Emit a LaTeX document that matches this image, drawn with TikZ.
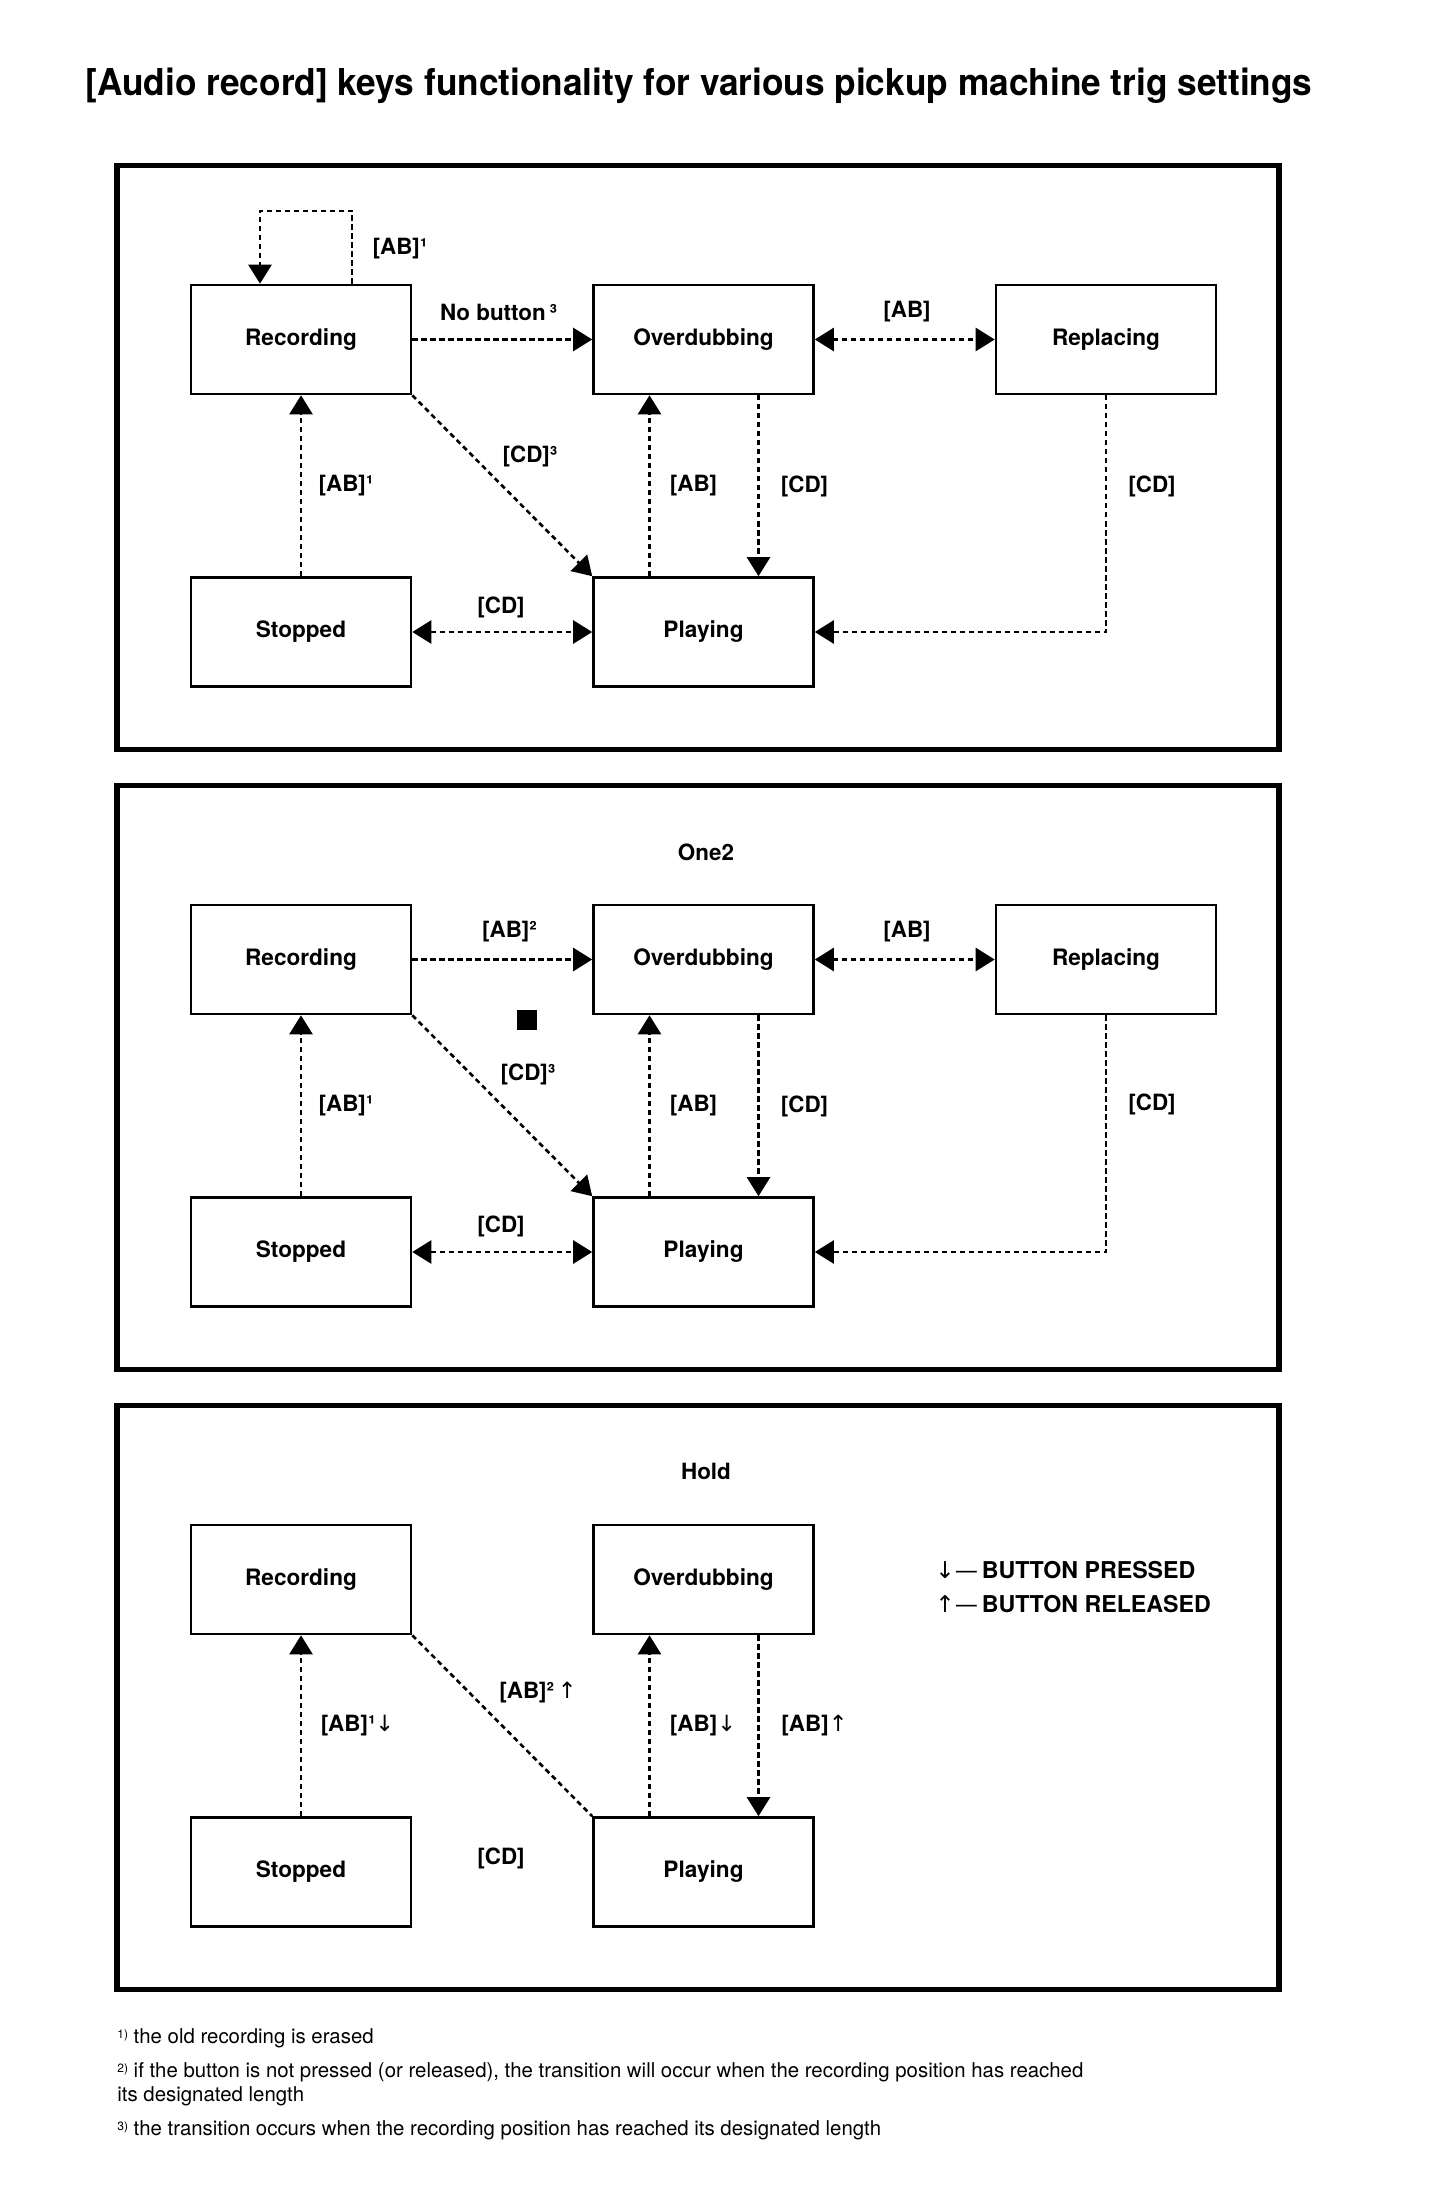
\documentclass[tikz,border=0pt]{standalone}
\usepackage{fontspec}
\setmainfont{TeX Gyre Heros}
\newfontfamily\arr{DejaVu Sans}
\usetikzlibrary{arrows.meta,calc}
\tikzset{
  box/.style={draw, line width=1.3pt, minimum width=110pt, minimum height=54.5pt, inner sep=0pt,
    font=\bfseries\fontsize{11.3}{13}\selectfont},
  lbl/.style={inner sep=0pt, font=\bfseries\fontsize{11.2}{13}\selectfont},
  lgd/.style={inner sep=0pt, anchor=west, font=\bfseries\fontsize{11.6}{13}\selectfont},
  ttl/.style={inner sep=0pt, font=\bfseries\fontsize{11.2}{13}\selectfont},
  fnote/.style={inner sep=0pt, anchor=base west, font=\fontsize{10.2}{12}\selectfont},
  frame/.style={line width=2.6pt},
  dl/.style={line width=1.3pt, dash pattern=on 2.6pt off 1.9pt},
  tip/.tip={Triangle[length=9.5pt,width=11.5pt]}
}
\newcommand{\fnm}[1]{\raisebox{0.45ex}{\fontsize{6}{7}\selectfont #1}}
\begin{document}
\begin{tikzpicture}[x=0.5pt,y=-0.5pt]
\useasboundingbox (0,0) rectangle (1432,2209);
\fill[white] (0,0) rectangle (1432,2209);

% Title
\node[inner sep=0pt, anchor=base west] (title) at (85,96)
  {\resizebox{613.5pt}{\height}{\bfseries\fontsize{18.5}{22}\selectfont [Audio record] keys functionality for various pickup machine trig settings}};

% ---------------- Frame 1 ----------------
\draw[frame] (117,165.5) rectangle (1279,749.5);
\node[box] (rec1)  at (301,339.5)  {Recording};
\node[box] (over1) at (703.5,339.5) {Overdubbing};
\node[box] (repl1) at (1106,339.5) {Replacing};
\node[box] (stop1) at (301,632)    {Stopped};
\node[box] (play1) at (703.5,632)  {Playing};
\coordinate (loop1) at (260,211);
\draw[dl,-tip] ([xshift=25.5pt]rec1.north) |- (loop1) -- ([xshift=-20.5pt]rec1.north);
\draw[dl,-tip] (rec1) -- (over1);
\draw[dl,tip-tip] (over1) -- (repl1);
\draw[dl,-tip] (rec1.south east) -- (play1.north west);
\draw[dl,-tip] (stop1) -- (rec1);
\draw[dl,-tip] ([xshift=-27pt]play1.north) -- ([xshift=-27pt]over1.south);
\draw[dl,-tip] ([xshift=27.5pt]over1.south) -- ([xshift=27.5pt]play1.north);
\draw[dl,-tip] (repl1.south) |- (play1.east);
\draw[dl,tip-tip] (stop1) -- (play1);
\node[lbl] (l1a) at (400,249) {[AB]¹};
\node[lbl] (l1b) at (498.5,312) {No button\,³};
\node[lbl] (l1c) at (907,312) {[AB]};
\node[lbl] (l1d) at (530,456) {[CD]³};
\node[lbl] (l1e) at (346,486) {[AB]¹};
\node[lbl] (l1f) at (693.5,486) {[AB]};
\node[lbl] (l1g) at (804.5,486) {[CD]};
\node[lbl] (l1h) at (1152,486) {[CD]};
\node[lbl] (l1i) at (501,607) {[CD]};

% ---------------- Frame 2 ----------------
\draw[frame] (117,785.5) rectangle (1279,1369.5);
\node[ttl] (t2) at (706,852) {One2};
\node[box] (rec2)  at (301,959.5)  {Recording};
\node[box] (over2) at (703.5,959.5) {Overdubbing};
\node[box] (repl2) at (1106,959.5) {Replacing};
\node[box] (stop2) at (301,1252)    {Stopped};
\node[box] (play2) at (703.5,1252)  {Playing};
\draw[dl,-tip] (rec2) -- (over2);
\draw[dl,tip-tip] (over2) -- (repl2);
\draw[dl,-tip] (rec2.south east) -- (play2.north west);
\draw[dl,-tip] (stop2) -- (rec2);
\draw[dl,-tip] ([xshift=-27pt]play2.north) -- ([xshift=-27pt]over2.south);
\draw[dl,-tip] ([xshift=27.5pt]over2.south) -- ([xshift=27.5pt]play2.north);
\draw[dl,-tip] (repl2.south) |- (play2.east);
\draw[dl,tip-tip] (stop2) -- (play2);
\node[fill=black, minimum size=10pt, inner sep=0pt] (sq2) at (527,1020) {};
\node[lbl] (l2b) at (509.5,932) {[AB]²};
\node[lbl] (l2c) at (907,932) {[AB]};
\node[lbl] (l2d) at (528,1074) {[CD]³};
\node[lbl] (l2e) at (346,1106) {[AB]¹};
\node[lbl] (l2f) at (693.5,1106) {[AB]};
\node[lbl] (l2g) at (804.5,1106) {[CD]};
\node[lbl] (l2h) at (1152,1104) {[CD]};
\node[lbl] (l2i) at (501,1226) {[CD]};

% ---------------- Frame 3 ----------------
\draw[frame] (117,1405.5) rectangle (1279,1989.5);
\node[ttl] (t3) at (706,1471) {Hold};
\node[box] (rec3)  at (301,1579.5)  {Recording};
\node[box] (over3) at (703.5,1579.5) {Overdubbing};
\node[box] (stop3) at (301,1872)    {Stopped};
\node[box] (play3) at (703.5,1872)  {Playing};
\draw[dl] (rec3.south east) -- (play3.north west);
\draw[dl,-tip] (stop3) -- (rec3);
\draw[dl,-tip] ([xshift=-27pt]play3.north) -- ([xshift=-27pt]over3.south);
\draw[dl,-tip] ([xshift=27.5pt]over3.south) -- ([xshift=27.5pt]play3.north);
\node[lbl] (l3d) at (538,1693) {[AB]²\,{\arr\mdseries ↑}};
\node[lbl] (l3e) at (357.5,1726) {[AB]¹{\arr\mdseries ↓}};
\node[lbl] (l3f) at (703,1726) {[AB]{\arr\mdseries ↓}};
\node[lbl] (l3g) at (814.5,1726) {[AB]{\arr\mdseries ↑}};
\node[lbl] (l3i) at (501,1858) {[CD]};
\node[lgd] (lg1) at (935,1570) {{\arr\mdseries ↓—}\,BUTTON PRESSED};
\node[lgd] (lg2) at (935,1604) {{\arr\mdseries ↑—}\,BUTTON RELEASED};

% ---------------- Footnotes ----------------
\node[fnote] (f1) at (117,2043) {\fnm{1)} the old recording is erased};
\node[fnote] (f2) at (117,2077) {\fnm{2)} if the button is not pressed (or released), the transition will occur when the recording position has reached};
\node[fnote] (f2b) at (117,2101) {its designated length};
\node[fnote] (f3) at (117,2135) {\fnm{3)} the transition occurs when the recording position has reached its designated length};
\end{tikzpicture}
\end{document}
